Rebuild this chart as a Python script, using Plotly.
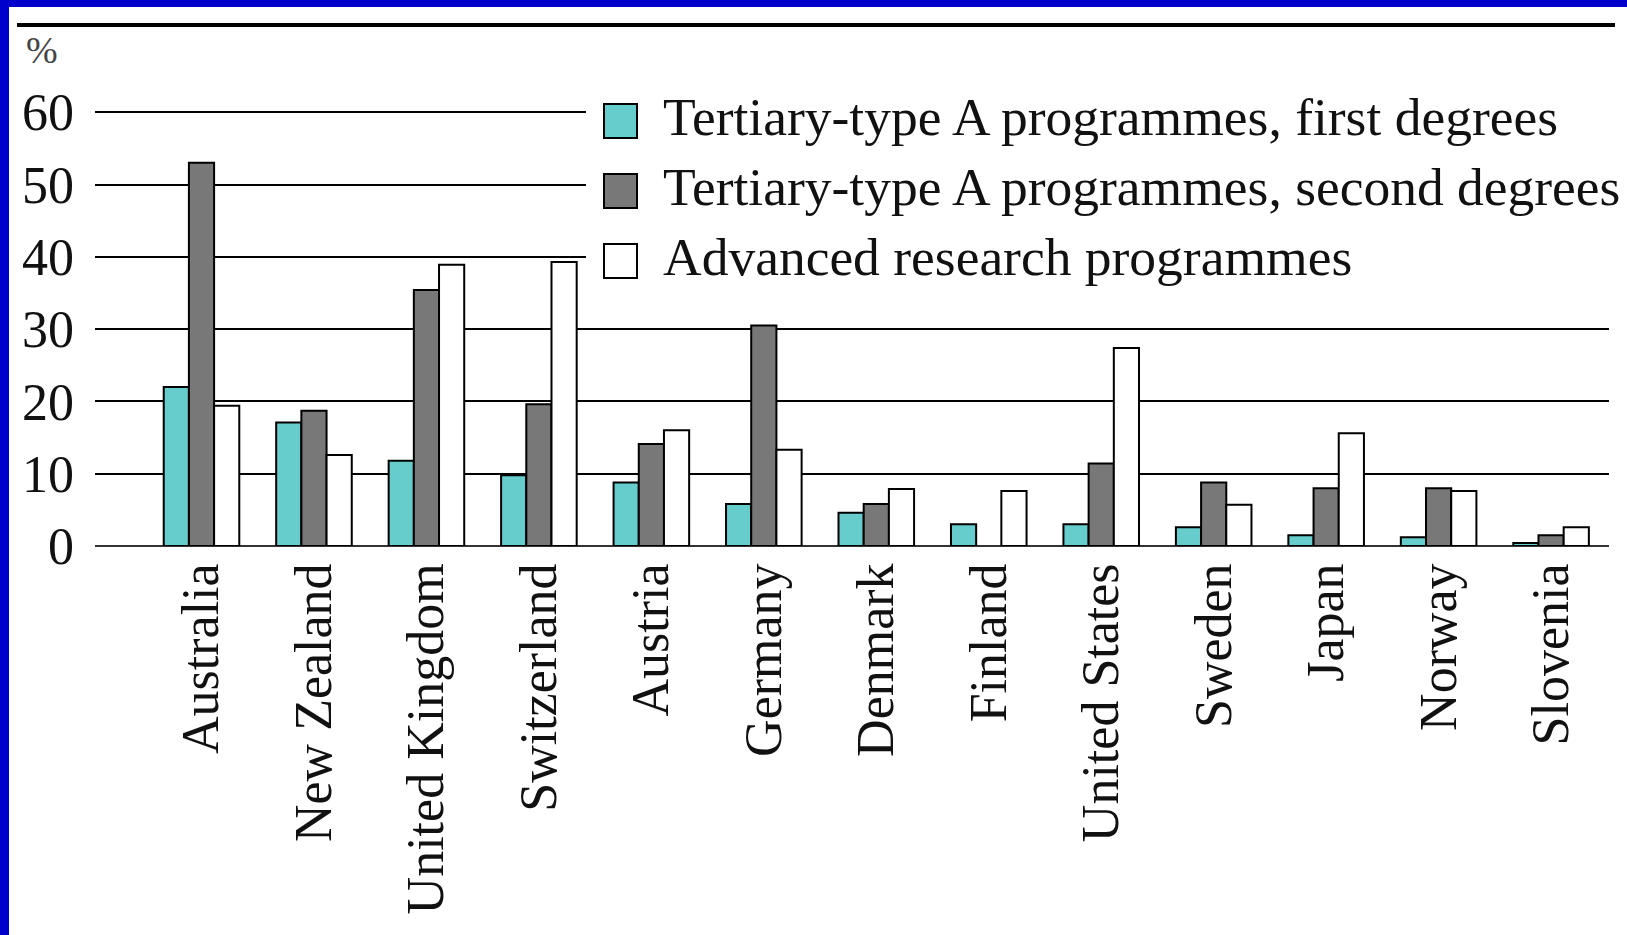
import plotly.graph_objects as go

categories = ["Australia", "New Zealand", "United Kingdom", "Switzerland", "Austria",
              "Germany", "Denmark", "Finland", "United States", "Sweden", "Japan",
              "Norway", "Slovenia"]
first_degrees = [22.0, 17.1, 11.8, 9.8, 8.8, 5.8, 4.6, 3.0, 3.0, 2.6, 1.5, 1.2, 0.4]
second_degrees = [53.0, 18.7, 35.4, 19.6, 14.1, 30.5, 5.8, None, 11.4, 8.8, 8.0, 8.0, 1.5]
advanced_research = [19.4, 12.6, 38.9, 39.3, 16.0, 13.3, 7.9, 7.6, 27.4, 5.7, 15.6, 7.6, 2.6]
series_names = ["Tertiary-type A programmes, first degrees",
                "Tertiary-type A programmes, second degrees",
                "Advanced research programmes"]
series_colors = ["#66CCCC", "#787878", "#FFFFFF"]
y_ticks = [0, 10, 20, 30, 40, 50, 60]

FW, FH = 1627, 935
L, R, T, B = 95, 18, 105, 389
PW, PH = FW - L - R, FH - T - B
FONT = "Liberation Serif"


def px(x):
    return (x - L) / PW


def py(y):
    return (FH - B - y) / PH


fig = go.Figure()
for name, vals, col in zip(series_names, [first_degrees, second_degrees, advanced_research], series_colors):
    fig.add_trace(go.Bar(x=categories, y=vals, name=name,
                         marker=dict(color=col, line=dict(color="#000000", width=2)),
                         showlegend=False))

shapes = []
# blue frame (left and top)
shapes.append(dict(type="rect", xref="paper", yref="paper", x0=px(-5), x1=px(9), y0=py(-5), y1=py(FH + 5),
                   fillcolor="#0000CC", line=dict(width=0), layer="above"))
shapes.append(dict(type="rect", xref="paper", yref="paper", x0=px(-5), x1=px(FW + 5), y0=py(-5), y1=py(7),
                   fillcolor="#0000CC", line=dict(width=0), layer="above"))
# top rule
shapes.append(dict(type="line", xref="paper", yref="paper", x0=px(17), x1=px(1615), y0=py(25), y1=py(25),
                   line=dict(color="#000000", width=4), layer="above"))
# legend background
shapes.append(dict(type="rect", xref="paper", yref="paper", x0=px(586), x1=px(1622), y0=py(80), y1=py(300),
                   fillcolor="#FFFFFF", line=dict(width=0), layer="above"))
annotations = []
row_y = [121, 191, 261]
for name, col, yc in zip(series_names, series_colors, row_y):
    shapes.append(dict(type="rect", xref="paper", yref="paper", x0=px(604), x1=px(637),
                       y0=py(yc - 17), y1=py(yc + 17), fillcolor=col,
                       line=dict(color="#000000", width=2), layer="above"))
    annotations.append(dict(text=name, xref="paper", yref="paper", x=px(661), y=py(yc - 4),
                            xanchor="left", yanchor="middle", showarrow=False,
                            font=dict(family=FONT, size=53.5, color="#111111")))
annotations.append(dict(text="%", xref="paper", yref="paper", x=px(42), y=py(50),
                        xanchor="center", yanchor="middle", showarrow=False,
                        font=dict(family=FONT, size=38, color="#444444")))

fig.update_layout(
    width=FW, height=FH,
    margin=dict(l=L, r=R, t=T, b=B, pad=0),
    paper_bgcolor="#FFFFFF", plot_bgcolor="#FFFFFF",
    barmode="group", bargap=0.328, bargroupgap=0,
    font=dict(family=FONT, color="#111111"),
    shapes=shapes, annotations=annotations,
    xaxis=dict(type="category", range=[-0.947, 12.515], showgrid=False, showline=False,
               ticks="", tickangle=-90, tickfont=dict(size=52, family=FONT, color="#111111"),
               ticklabelstandoff=6, zeroline=False),
    yaxis=dict(range=[0, 61], tickvals=y_ticks, ticktext=[str(v) for v in y_ticks],
               showgrid=True, gridcolor="#000000", gridwidth=2,
               zeroline=True, zerolinecolor="#333333", zerolinewidth=2,
               showline=False, ticks="", ticklabelstandoff=20,
               tickfont=dict(size=52, family=FONT, color="#111111")),
)

fig.write_html("out.html", post_script="document.body.style.margin='0';",
               config={"displayModeBar": False})
